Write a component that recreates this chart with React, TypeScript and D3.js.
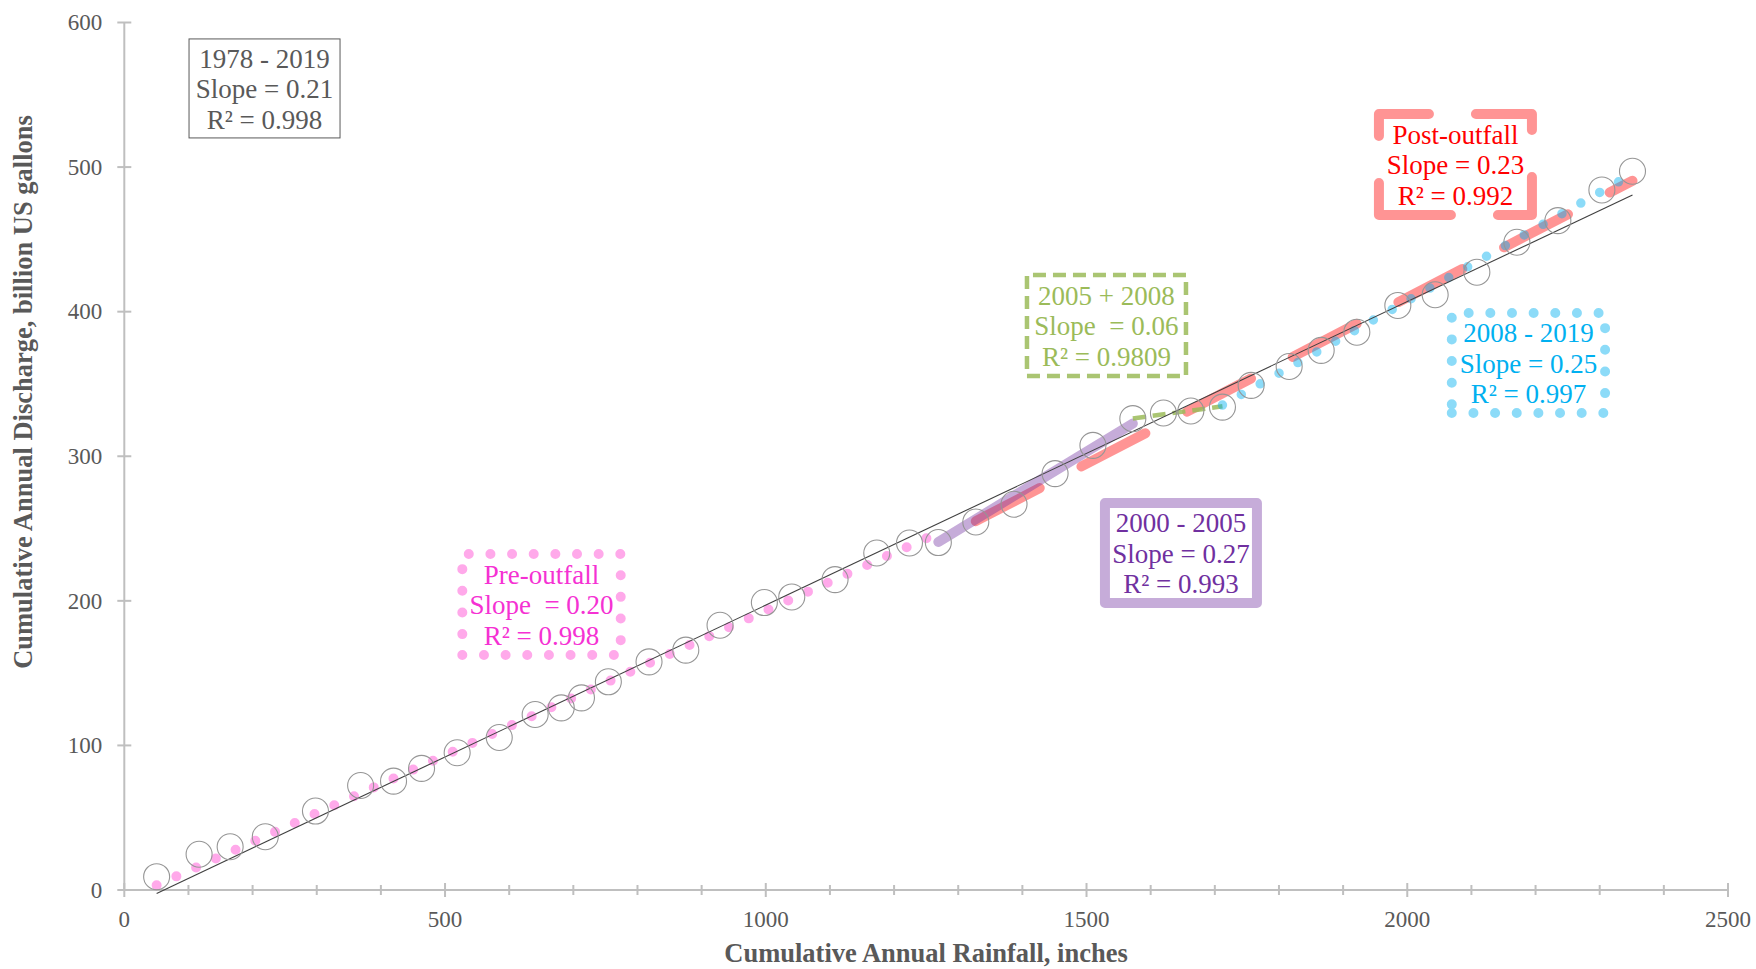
import React from 'react';
import * as d3 from 'd3';

// Cumulative annual totals, one point per year (1978 - 2019)
const cumRainfall = [
  50.4, 116.6, 165, 219.8, 298, 368.4, 419.7, 463.4, 518.9, 584.5,
  640.5, 681.2, 712.7, 754.6, 818, 875.3, 928.7, 997.8, 1040.5, 1108,
  1173, 1224, 1269, 1327.4, 1387, 1451, 1510, 1572.2, 1619.9, 1662.6,
  1711.9, 1756.6, 1815.9, 1865.8, 1921.4, 1985.3, 2043.5, 2108.5, 2170.9, 2234.8,
  2303.4, 2351.1,
];
const cumDischarge = [
  9.2, 24.7, 29.9, 36.8, 54.6, 72.3, 75.3, 84.1, 94.9, 105.5,
  121.4, 126, 132.9, 144, 157.8, 165.9, 183.1, 198.8, 202.7, 214.7,
  233.1, 240, 240.3, 254.5, 266.8, 288, 307.5, 326, 329.9, 331.3,
  334, 349, 362.1, 373.2, 385.8, 404.3, 411.7, 427.3, 448, 463,
  484.2, 497.1,
];

// Linear fits: title, slope, intercept, R², first and last point index
const fitTitles = ['1978 - 2019', 'Pre-outfall', '2000 - 2005', '2005 + 2008', 'Post-outfall', '2008 - 2019'];
const fitSlopes = [0.21, 0.2, 0.27, 0.06, 0.23, 0.25];
const fitIntercepts = [-13, -6.8, -101.9, 231.8, -50.2, -92.55];
const fitR2 = ['0.998', '0.998', '0.993', '0.9809', '0.992', '0.997'];
const fitFirst = [0, 0, 22, 27, 23, 30];
const fitLast = [41, 22, 27, 30, 41, 41];
const fitSlopeGap = ['', ' ', '', ' ', '', ''];

const xMajorTicks = [0, 500, 1000, 1500, 2000, 2500];
const xMinorTicks = [100, 200, 300, 400, 600, 700, 800, 900, 1100, 1200, 1300, 1400, 1600, 1700, 1800, 1900, 2100, 2200, 2300, 2400];
const yTicks = [0, 100, 200, 300, 400, 500, 600];

const W = 1756;
const H = 969;
const SERIF = '"Liberation Serif", "Times New Roman", Times, serif';
const AXIS = '#bfbfbf';
const LABEL = '#595959';

// Stroke style of each fit line, also used for the frame of its text box
const fitStyles = [
  { stroke: '#404040', width: 1.1, dash: undefined as string | undefined, cap: 'butt', text: '#595959' },
  { stroke: 'rgba(255,51,204,0.42)', width: 10, dash: '0 21.65', cap: 'round', text: '#f531d3' },
  { stroke: 'rgba(112,48,160,0.4)', width: 10, dash: undefined, cap: 'round', text: '#7030a0' },
  { stroke: 'rgba(155,187,89,0.85)', width: 4.5, dash: '13 7', cap: 'butt', text: '#9bbb59' },
  { stroke: 'rgba(255,0,0,0.42)', width: 10, dash: '72 47', cap: 'round', text: '#ff0000' },
  { stroke: 'rgba(0,176,240,0.45)', width: 9.5, dash: '0 21.65', cap: 'round', text: '#00b0f0' },
];

// Text box centres (in axis units) and sizes (px)
const boxLayout = [
  { cx: 218.6, cy: 554.4, w: 151, h: 99 },
  { cx: 650.4, cy: 197.5, w: 158.4, h: 101 },
  { cx: 2075.1, cy: 501.8, w: 153, h: 101 },
  { cx: 1531.1, cy: 390.4, w: 159, h: 101 },
  { cx: 1647.2, cy: 233.1, w: 152, h: 100 },
  { cx: 2188.9, cy: 364.5, w: 153.3, h: 100 },
];
// which fit each box describes
const boxFit = [0, 1, 4, 3, 2, 5];

export default function App() {
  const x = d3.scaleLinear().domain([0, 2500]).range([124.3, 1728]);
  const y = d3.scaleLinear().domain([0, 600]).range([890, 22.5]);
  const line = d3.line<[number, number]>().x((d) => x(d[0])).y((d) => y(d[1]));

  const fitPath = (i: number) => {
    const x0 = cumRainfall[fitFirst[i]];
    const x1 = cumRainfall[fitLast[i]];
    const f = (v: number) => fitSlopes[i] * v + fitIntercepts[i];
    return line([[x0, f(x0)], [x1, f(x1)]]) || '';
  };

  const drawOrder = [4, 2, 1, 3, 5, 0];
  const points = cumRainfall.map((r, i) => [r, cumDischarge[i]] as [number, number]);

  const boxPath = (l: number, t: number, r: number, b: number) =>
    `M${l},${b}L${r},${b}L${r},${t}L${l},${t}Z`;

  return (
    <svg
      width={W}
      height={H}
      viewBox={`0 0 ${W} ${H}`}
      style={{ position: 'absolute', left: 0, top: 0, display: 'block', background: '#fff' }}
      fontFamily={SERIF}
    >
      <rect x={0} y={0} width={W} height={H} fill="#fff" />

      {/* axes */}
      <g stroke={AXIS} strokeWidth={2} fill="none">
        <line x1={x(0)} x2={x(2500)} y1={y(0)} y2={y(0)} />
        <line x1={x(0)} x2={x(0)} y1={y(0)} y2={y(600)} />
        {xMajorTicks.map((t) => (
          <line key={`xM${t}`} x1={x(t)} x2={x(t)} y1={y(0) - 7} y2={y(0) + 7} />
        ))}
        {xMinorTicks.map((t) => (
          <line key={`xm${t}`} x1={x(t)} x2={x(t)} y1={y(0) - 5} y2={y(0) + 5} />
        ))}
        {yTicks.map((t) => (
          <line key={`y${t}`} x1={x(0) - 7} x2={x(0) + 7} y1={y(t)} y2={y(t)} />
        ))}
      </g>
      <g fill={LABEL} fontSize={23}>
        {xMajorTicks.map((t) => (
          <text key={`xl${t}`} x={x(t)} y={y(0) + 37} textAnchor="middle">{t}</text>
        ))}
        {yTicks.map((t) => (
          <text key={`yl${t}`} x={x(0) - 22} y={y(t) + 7.8} textAnchor="end">{t}</text>
        ))}
      </g>

      {/* axis titles */}
      <text x={926} y={962} textAnchor="middle" fontWeight="bold" fontSize={26.5} fill={LABEL}>
        Cumulative Annual Rainfall, inches
      </text>
      <text
        transform={`translate(32,392) rotate(-90)`}
        textAnchor="middle"
        fontWeight="bold"
        fontSize={26.5}
        fill={LABEL}
      >
        Cumulative Annual Discharge, billion US gallons
      </text>

      {/* fit lines */}
      {drawOrder.map((i) => {
        const s = fitStyles[i];
        return (
          <path
            key={`fit${i}`}
            d={fitPath(i)}
            fill="none"
            stroke={s.stroke}
            strokeWidth={s.width}
            strokeDasharray={s.dash}
            strokeLinecap={s.cap as any}
          />
        );
      })}

      {/* yearly points */}
      <g fill="none" stroke="#969696" strokeWidth={1.1}>
        {points.map((p, i) => (
          <circle key={`pt${i}`} cx={x(p[0])} cy={y(p[1])} r={13} />
        ))}
      </g>

      {/* fit summaries */}
      {boxLayout.map((b, k) => {
        const i = boxFit[k];
        const s = fitStyles[i];
        const cx = x(b.cx);
        const cy = y(b.cy);
        const l = cx - b.w / 2;
        const r = cx + b.w / 2;
        const t = cy - b.h / 2;
        const bt = cy + b.h / 2;
        const lines = [
          fitTitles[i],
          `Slope ${fitSlopeGap[i]}= ${fitSlopes[i].toFixed(2)}`,
          `R² = ${fitR2[i]}`,
        ];
        return (
          <g key={`box${k}`}>
            {i === 0 ? (
              <rect x={l} y={t} width={b.w} height={b.h} fill="#fff" stroke="#595959" strokeWidth={1} />
            ) : (
              <path
                d={boxPath(l, t, r, bt)}
                fill="#fff"
                stroke={s.stroke}
                strokeWidth={i === 3 ? 4.5 : 10}
                strokeDasharray={s.dash}
                strokeLinecap={s.cap as any}
                strokeLinejoin="round"
              />
            )}
            {lines.map((txt, j) => (
              <text
                key={j}
                x={cx}
                y={cy - 20.5 + j * 30.3}
                textAnchor="middle"
                fontSize={27}
                fill={s.text}
                style={{ whiteSpace: 'pre' }}
              >
                {txt}
              </text>
            ))}
          </g>
        );
      })}
    </svg>
  );
}
